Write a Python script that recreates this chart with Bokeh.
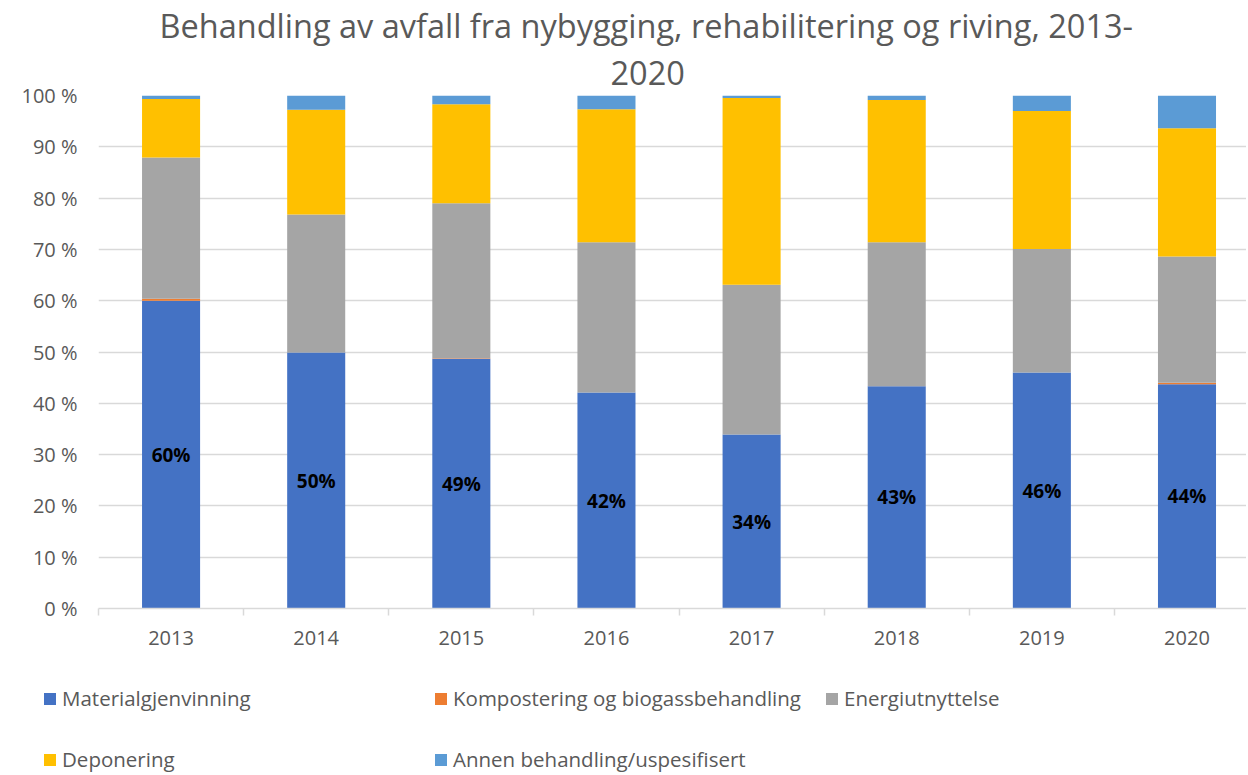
from bokeh.plotting import figure
from bokeh.layouts import column
from bokeh.models import ColumnDataSource, Range1d, FixedTicker, Legend, LegendItem, Title
from bokeh.embed import file_html
from bokeh.resources import INLINE
from bokeh.core.properties import value

# ---------------- data ----------------
years = ["2013", "2014", "2015", "2016", "2017", "2018", "2019", "2020"]
materialgjenvinning = [60.0, 49.9, 48.7, 42.1, 33.9, 43.3, 46.0, 43.7]
kompostering = [0.4, 0.0, 0.1, 0.0, 0.0, 0.0, 0.0, 0.3]
energiutnyttelse = [27.5, 26.9, 30.2, 29.3, 29.2, 28.1, 24.1, 24.6]
deponering = [11.4, 20.4, 19.3, 25.9, 36.4, 27.7, 26.9, 25.0]
annen = [0.7, 2.8, 1.7, 2.7, 0.5, 0.9, 3.0, 6.4]

series_names = ["Materialgjenvinning", "Kompostering og biogassbehandling",
                "Energiutnyttelse", "Deponering", "Annen behandling/uspesifisert"]
series_keys = ["mat", "komp", "energi", "depon", "annen"]
colors = ["#4472C4", "#ED7D31", "#A5A5A5", "#FFC000", "#5B9BD5"]
y_ticks = list(range(0, 101, 10))

title_lines = ["Behandling av avfall fra nybygging, rehabilitering og riving, 2013-", "2020"]

FONT = "Open Sans"
GREY_TEXT = "#595959"
GRID = "#d9d9d9"

xs = list(range(1, len(years) + 1))
source = ColumnDataSource(dict(
    x=xs,
    mat=materialgjenvinning,
    komp=kompostering,
    energi=energiutnyttelse,
    depon=deponering,
    annen=annen,
    label_y=[v / 2 for v in materialgjenvinning],
    label=[f"{round(v)}%" for v in materialgjenvinning],
))

W = 1246
TOTAL_H = 773
PH = 660
# the original plot area runs slightly past the right edge of the picture
p = figure(width=W, height=PH, output_backend="svg", toolbar_location=None, title=None,
           x_range=Range1d(0.5, len(years) + 0.41), y_range=Range1d(0, 100),
           min_border_left=98, min_border_right=0, min_border_top=10, min_border_bottom=52)
p.frame_align = False

# title: second line first (closest to the frame), then first line above it
for line, so, off in zip(reversed(title_lines), [22, 0], [512, 61]):
    p.add_layout(Title(text=line, align="left", offset=off, text_font=FONT,
                       text_font_size="32.5px", text_font_style="normal",
                       text_color=GREY_TEXT, standoff=so), "above")

renderers = p.vbar_stack(series_keys, x="x", width=0.4, color=colors, source=source,
                         line_color=None)

p.text(x="x", y="label_y", text="label", source=source, text_align="center",
       text_baseline="middle", text_font=value(FONT), text_font_style="bold",
       text_font_size="19px", text_color="black")

# axes
p.xaxis.ticker = FixedTicker(ticks=xs, minor_ticks=[x - 0.5 for x in xs] + [xs[-1] + 0.5])
p.xaxis.major_label_overrides = {x: y for x, y in zip(xs, years)}
p.xaxis.axis_line_color = GRID
p.xaxis.axis_line_width = 1.5
p.xaxis.major_tick_line_color = None
p.xaxis.minor_tick_line_color = GRID
p.xaxis.minor_tick_line_width = 1.5
p.xaxis.minor_tick_out = 7
p.xaxis.minor_tick_in = 0
p.xaxis.major_label_text_font = FONT
p.xaxis.major_label_text_font_size = "20px"
p.xaxis.major_label_text_color = GREY_TEXT
p.xaxis.major_label_standoff = 15

p.yaxis.ticker = FixedTicker(ticks=y_ticks)
p.yaxis.major_label_overrides = {t: f"{t} %" for t in y_ticks}
p.yaxis.axis_line_color = None
p.yaxis.major_tick_line_color = None
p.yaxis.minor_tick_line_color = None
p.yaxis.major_label_text_font = FONT
p.yaxis.major_label_text_font_size = "20px"
p.yaxis.major_label_text_color = GREY_TEXT
p.yaxis.major_label_standoff = 15

p.xgrid.grid_line_color = None
p.ygrid.grid_line_color = GRID
p.ygrid.grid_line_width = 1.5
p.outline_line_color = None

# ---------------- legend strip ----------------
LH = TOTAL_H - PH
q = figure(width=W, height=LH, output_backend="svg", toolbar_location=None, title=None,
           x_range=Range1d(0, 1), y_range=Range1d(0, 1),
           min_border_left=0, min_border_right=0, min_border_top=0, min_border_bottom=0,
           x_axis_location=None, y_axis_location=None)
q.frame_align = False
q.grid.visible = False
q.outline_line_color = None
# zero-height swatch sources: they only give the legend its colours
swatch = ColumnDataSource(dict(x=[0], top=[0]))
legend_renderers = [q.vbar(x="x", top="top", width=0.0, fill_color=c, line_color=None,
                           source=swatch) for c in colors]

legend_rows = [[0, 1, 2], [3, 4]]
legend_y = [61, 0]
for row, ly in zip(legend_rows, legend_y):
    lg = Legend(items=[LegendItem(label=series_names[i], renderers=[legend_renderers[i]]) for i in row],
                orientation="horizontal", location=(42, ly),
                label_text_font=FONT, label_text_font_size="20.5px", label_text_color=GREY_TEXT,
                glyph_width=15, glyph_height=15, label_standoff=5, label_width=355,
                label_height=15, spacing=16, padding=0, margin=0,
                border_line_color=None, background_fill_alpha=0)
    q.add_layout(lg, "center")

layout = column(p, q, spacing=0)
open("out.html", "w").write(file_html(layout, INLINE))
